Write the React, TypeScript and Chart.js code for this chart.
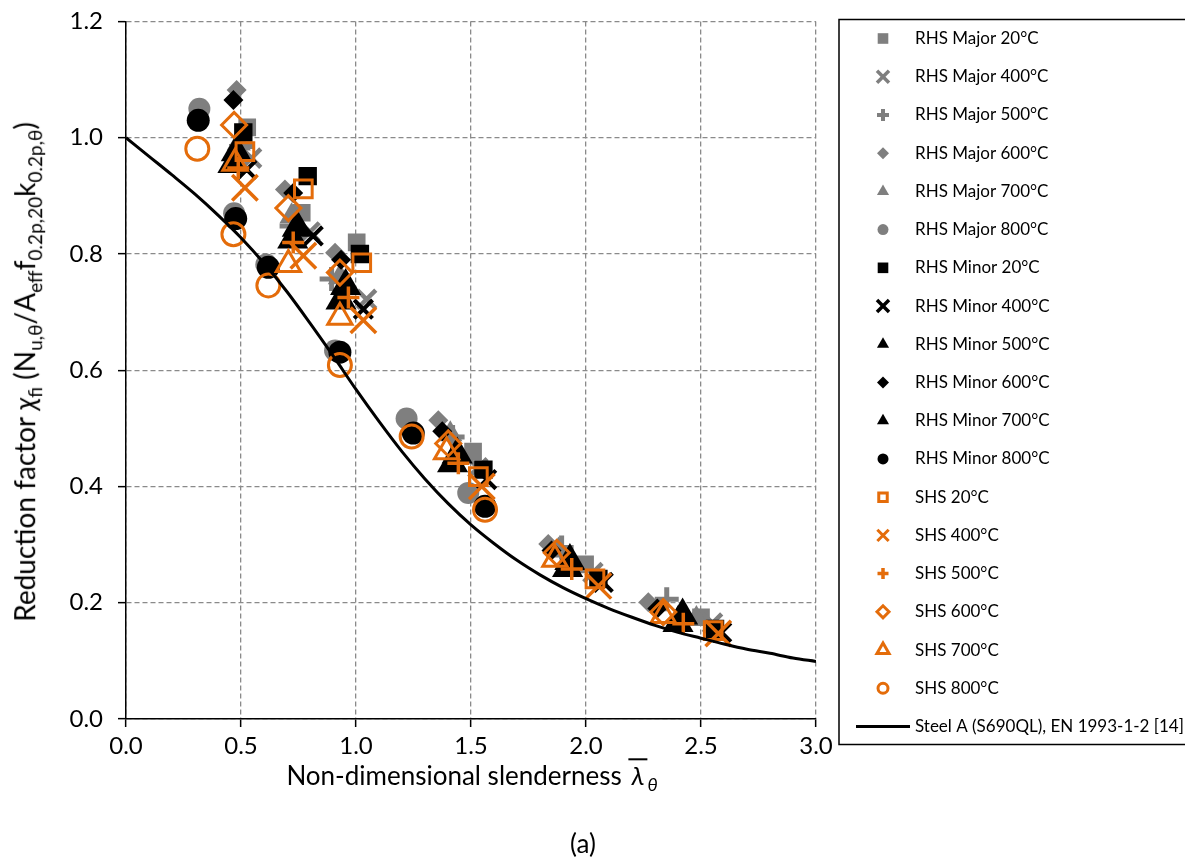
import { useEffect, useRef } from 'react';
import { Chart, registerables } from 'chart.js';

Chart.register(...registerables);

// ---------- data ----------
const xTicks = [0, 0.5, 1.0, 1.5, 2.0, 2.5, 3.0];
const yTicks = [0, 0.2, 0.4, 0.6, 0.8, 1.0, 1.2];

const seriesLabels = [
  'RHS Major 20°C', 'RHS Major 400°C', 'RHS Major 500°C', 'RHS Major 600°C', 'RHS Major 700°C', 'RHS Major 800°C',
  'RHS Minor 20°C', 'RHS Minor 400°C', 'RHS Minor 500°C', 'RHS Minor 600°C', 'RHS Minor 700°C', 'RHS Minor 800°C',
  'SHS 20°C', 'SHS 400°C', 'SHS 500°C', 'SHS 600°C', 'SHS 700°C', 'SHS 800°C',
];
const curveLabel = 'Steel A (S690QL), EN 1993-1-2 [14]';

const rhsMajor20 = [[0.527, 1.018], [0.764, 0.871], [1.003, 0.820], [1.509, 0.460], [1.996, 0.266], [2.50, 0.175]];
const rhsMajor400 = [[0.546, 0.965], [0.80, 0.838], [1.046, 0.722], [1.53, 0.432], [2.03, 0.252], [2.55, 0.165]];
const rhsMajor500 = [[0.50, 0.985], [0.720, 0.848], [0.894, 0.757], [1.42, 0.485], [1.894, 0.295], [2.351, 0.206]];
const rhsMajor600 = [[0.481, 1.082], [0.691, 0.911], [0.909, 0.802], [1.358, 0.514], [1.836, 0.301], [2.271, 0.201]];
const rhsMajor700 = [[0.49, 0.99], [0.72, 0.865], [0.93, 0.76], [1.41, 0.49], [1.88, 0.29], [2.48, 0.172]];
const rhsMajor800 = [[0.319, 1.050], [0.47, 0.87], [0.61, 0.782], [0.909, 0.634], [1.220, 0.517], [1.488, 0.389]];

const rhsMinor20 = [[0.510, 1.009], [0.790, 0.934], [1.017, 0.800], [1.554, 0.429], [2.054, 0.241], [2.561, 0.155]];
const rhsMinor400 = [[0.525, 0.945], [0.814, 0.831], [1.032, 0.705], [1.568, 0.412], [2.075, 0.235], [2.590, 0.149]];
const rhsMinor500 = [[0.48, 0.975], [0.745, 0.845], [0.955, 0.745], [1.44, 0.455], [1.93, 0.272], [2.42, 0.178]];
const rhsMinor600 = [[0.467, 1.065], [0.727, 0.905], [0.935, 0.79], [1.375, 0.495], [1.85, 0.29], [2.31, 0.19]];
const rhsMinor700 = [[0.465, 0.955], [0.725, 0.825], [0.935, 0.72], [1.42, 0.44], [1.92, 0.26], [2.40, 0.165]];
const rhsMinor800 = [[0.314, 1.030], [0.477, 0.861], [0.619, 0.777], [0.930, 0.631], [1.249, 0.492], [1.561, 0.366]];

const shs20 = [[0.517, 0.976], [0.771, 0.912], [1.025, 0.785], [1.532, 0.417], [2.039, 0.241], [2.553, 0.152]];
const shs400 = [[0.517, 0.914], [0.771, 0.797], [1.032, 0.686], [1.547, 0.400], [2.054, 0.229], [2.575, 0.147]];
const shs500 = [[0.488, 0.948], [0.727, 0.820], [0.967, 0.725], [1.445, 0.440], [1.938, 0.258], [2.423, 0.164]];
const shs600 = [[0.470, 1.022], [0.706, 0.879], [0.930, 0.768], [1.401, 0.474], [1.873, 0.286], [2.336, 0.184]];
const shs700 = [[0.474, 0.956], [0.706, 0.782], [0.930, 0.691], [1.394, 0.460], [1.865, 0.275], [2.336, 0.178]];
const shs800 = [[0.310, 0.981], [0.467, 0.834], [0.619, 0.746], [0.930, 0.609], [1.242, 0.486], [1.561, 0.360]];

const curveLambda = [0, 0.1, 0.2, 0.3, 0.4, 0.5, 0.6, 0.7, 0.8, 0.9, 1.0, 1.1, 1.2, 1.3, 1.4, 1.5,
  1.6, 1.7, 1.8, 1.9, 2.0, 2.1, 2.2, 2.3, 2.4, 2.5, 2.6, 2.7, 2.8, 2.9, 3.0];
const curveChi = [1.000, 0.968, 0.936, 0.903, 0.867, 0.828, 0.784, 0.735, 0.681, 0.625, 0.567, 0.512,
  0.460, 0.413, 0.371, 0.334, 0.302, 0.273, 0.248, 0.226, 0.207, 0.190, 0.175, 0.161, 0.149, 0.139,
  0.129, 0.120, 0.113, 0.105, 0.099];

const seriesData = [
  rhsMajor20, rhsMajor400, rhsMajor500, rhsMajor600, rhsMajor700, rhsMajor800,
  rhsMinor20, rhsMinor400, rhsMinor500, rhsMinor600, rhsMinor700, rhsMinor800,
  shs20, shs400, shs500, shs600, shs700, shs800,
];

// ---------- styles ----------
const GRAY = '#7f7f7f';
const BLACK = '#000000';
const ORANGE = '#e46c0a';

type Sty = { shape: string; color: string; hollow: boolean; r: number; bw: number; lr: number; lbw: number };
const styles: Sty[] = [
  { shape: 'rect', color: GRAY, hollow: false, r: 12.5, bw: 0, lr: 7.5, lbw: 0 },
  { shape: 'crossRot', color: GRAY, hollow: false, r: 13, bw: 4.5, lr: 8.5, lbw: 3.5 },
  { shape: 'cross', color: GRAY, hollow: false, r: 12, bw: 5, lr: 6, lbw: 4 },
  { shape: 'rectRot', color: GRAY, hollow: false, r: 10, bw: 0, lr: 6, lbw: 0 },
  { shape: 'triangle', color: GRAY, hollow: false, r: 14, bw: 0, lr: 7, lbw: 0 },
  { shape: 'circle', color: GRAY, hollow: false, r: 11, bw: 0, lr: 5.5, lbw: 0 },
  { shape: 'rect', color: BLACK, hollow: false, r: 13, bw: 0, lr: 7.5, lbw: 0 },
  { shape: 'crossRot', color: BLACK, hollow: false, r: 13, bw: 4, lr: 8.5, lbw: 3.5 },
  { shape: 'triangle', color: BLACK, hollow: false, r: 18, bw: 0, lr: 7, lbw: 0 },
  { shape: 'rectRot', color: BLACK, hollow: false, r: 10, bw: 0, lr: 6, lbw: 0 },
  { shape: 'triangle', color: BLACK, hollow: false, r: 18, bw: 0, lr: 7, lbw: 0 },
  { shape: 'circle', color: BLACK, hollow: false, r: 11.5, bw: 0, lr: 5.5, lbw: 0 },
  { shape: 'rect', color: ORANGE, hollow: true, r: 12.5, bw: 3, lr: 6, lbw: 3 },
  { shape: 'crossRot', color: ORANGE, hollow: true, r: 18, bw: 3.5, lr: 8, lbw: 3 },
  { shape: 'cross', color: ORANGE, hollow: true, r: 11, bw: 3.5, lr: 5.5, lbw: 3.5 },
  { shape: 'rectRot', color: ORANGE, hollow: true, r: 12.5, bw: 3, lr: 6, lbw: 3 },
  { shape: 'triangle', color: ORANGE, hollow: true, r: 14, bw: 3, lr: 7, lbw: 3 },
  { shape: 'circle', color: ORANGE, hollow: true, r: 11.5, bw: 3, lr: 5, lbw: 3 },
];

const FONT = 'Lato, "Open Sans", sans-serif';

function drawMarker(ctx: CanvasRenderingContext2D, s: Sty, x: number, y: number) {
  const r = s.lr;
  ctx.save();
  ctx.fillStyle = s.hollow ? 'rgba(0,0,0,0)' : s.color;
  ctx.strokeStyle = s.color;
  ctx.lineWidth = s.lbw;
  ctx.beginPath();
  const Q = Math.PI / 4;
  switch (s.shape) {
    case 'rect': {
      const h = Math.SQRT1_2 * r;
      ctx.rect(x - h, y - h, 2 * h, 2 * h);
      break;
    }
    case 'rectRot':
      ctx.moveTo(x - r, y);
      ctx.lineTo(x, y - r);
      ctx.lineTo(x + r, y);
      ctx.lineTo(x, y + r);
      ctx.closePath();
      break;
    case 'triangle': {
      let a = 0;
      ctx.moveTo(x + Math.sin(a) * r, y - Math.cos(a) * r);
      a += (2 * Math.PI) / 3;
      ctx.lineTo(x + Math.sin(a) * r, y - Math.cos(a) * r);
      a += (2 * Math.PI) / 3;
      ctx.lineTo(x + Math.sin(a) * r, y - Math.cos(a) * r);
      ctx.closePath();
      break;
    }
    case 'cross':
      ctx.moveTo(x - r, y);
      ctx.lineTo(x + r, y);
      ctx.moveTo(x, y - r);
      ctx.lineTo(x, y + r);
      break;
    case 'crossRot': {
      const d = Math.cos(Q) * r;
      ctx.moveTo(x - d, y - d);
      ctx.lineTo(x + d, y + d);
      ctx.moveTo(x + d, y - d);
      ctx.lineTo(x - d, y + d);
      break;
    }
    default:
      ctx.arc(x, y, r, 0, Math.PI * 2);
      ctx.closePath();
  }
  if (!s.hollow && s.shape !== 'cross' && s.shape !== 'crossRot') ctx.fill();
  if (s.lbw > 0) ctx.stroke();
  ctx.restore();
}

const boxLegend = {
  id: 'boxLegend',
  afterDraw(chart: any) {
    const { ctx, chartArea } = chart;
    const left = chartArea.right + 23;
    const top = chartArea.top - 2;
    const markerX = chartArea.right + 67;
    const textX = chartArea.right + 99;
    const step = 38.22;
    const firstY = chartArea.top + 17;
    ctx.save();
    ctx.strokeStyle = '#000';
    ctx.lineWidth = 1.5;
    ctx.strokeRect(left, top, 400, 725);
    ctx.font = `17px ${FONT}`;
    ctx.textBaseline = 'middle';
    ctx.textAlign = 'left';
    seriesLabels.forEach((lab, i) => {
      const y = firstY + i * step;
      drawMarker(ctx, styles[i], markerX, y);
      ctx.fillStyle = '#000';
      ctx.fillText(lab, textX, y);
    });
    const ly = firstY + seriesLabels.length * step;
    ctx.strokeStyle = '#000';
    ctx.lineWidth = 3;
    ctx.beginPath();
    ctx.moveTo(chartArea.right + 40, ly);
    ctx.lineTo(chartArea.right + 94, ly);
    ctx.stroke();
    ctx.fillStyle = '#000';
    ctx.fillText(curveLabel, textX, ly);
    ctx.restore();
  },
};

export default function App() {
  const ref = useRef<HTMLCanvasElement>(null);

  useEffect(() => {
    if (!ref.current) return;
    const datasets: any[] = seriesData.map((pts, i) => {
      const s = styles[i];
      const isCross = s.shape === 'cross' || s.shape === 'crossRot';
      return {
        type: 'scatter',
        label: seriesLabels[i],
        data: pts.map(([x, y]) => ({ x, y })),
        pointStyle: s.shape,
        pointRadius: s.r,
        pointBackgroundColor: s.hollow || isCross ? 'rgba(0,0,0,0)' : s.color,
        pointBorderColor: s.color,
        pointBorderWidth: isCross || s.hollow ? s.bw : 0,
        showLine: false,
        order: 100 - i,
      };
    });
    datasets.push({
      type: 'line',
      label: curveLabel,
      data: curveLambda.map((x, i) => ({ x, y: curveChi[i] })),
      borderColor: '#000',
      borderWidth: 3,
      pointRadius: 0,
      cubicInterpolationMode: 'monotone',
      fill: false,
      order: 50,
    });

    const chart = new Chart(ref.current, {
      type: 'scatter',
      data: { datasets },
      options: {
        responsive: false,
        animation: false,
        events: [],
        layout: { padding: { top: 18, right: 369, left: 0, bottom: 0 } },
        plugins: { legend: { display: false }, tooltip: { enabled: false } },
        scales: {
          x: {
            type: 'linear',
            min: 0,
            max: 3,
            afterBuildTicks: (s: any) => { s.ticks = xTicks.map((v) => ({ value: v })); },
            afterFit: (s: any) => { s.height = 144; },
            ticks: {
              color: '#000',
              font: { family: FONT, size: 24 },
              padding: 5,
              callback: (v: any) => Number(v).toFixed(1),
            },
            grid: { color: '#8a8a8a', lineWidth: 1.3, tickColor: '#000', tickLength: 8, tickWidth: 1.5, tickBorderDash: [] },
            border: { display: true, color: '#000', width: 1.5, dash: [5, 3] },
          },
          y: {
            type: 'linear',
            min: 0,
            max: 1.2,
            afterBuildTicks: (s: any) => { s.ticks = yTicks.map((v) => ({ value: v })); },
            afterFit: (s: any) => { s.width = 126; s.paddingTop = 0; s.paddingBottom = 0; },
            ticks: {
              color: '#000',
              font: { family: FONT, size: 24 },
              padding: 15,
              callback: (v: any) => Number(v).toFixed(1),
            },
            grid: { color: '#8a8a8a', lineWidth: 1.3, tickColor: '#000', tickLength: 8, tickWidth: 1.5, tickBorderDash: [] },
            border: { display: true, color: '#000', width: 1.5, dash: [5, 3] },
          },
        },
      },
      plugins: [boxLegend],
    } as any);
    return () => chart.destroy();
  }, []);

  const sub = { fontSize: '68%' };
  return (
    <div style={{ position: 'fixed', left: 0, top: 0, width: 1185, height: 863, background: '#fff', fontFamily: FONT, color: '#000' }}>
      <canvas ref={ref} width={1185} height={863} style={{ position: 'absolute', left: 0, top: 0 }} />
      <div
        style={{
          position: 'absolute', left: 27, top: 372, whiteSpace: 'nowrap', fontSize: 28, lineHeight: 1,
          transform: 'translate(-50%, -50%) rotate(-90deg)',
        }}
      >
        Reduction factor <i>χ</i><sub style={sub}>fi</sub> (N<sub style={sub}>u,θ</sub>/A<sub style={sub}>eff</sub>f<sub style={sub}>0.2p,20</sub>k<sub style={sub}>0.2p,θ</sub>)
      </div>
      <div
        style={{
          position: 'absolute', left: 472, top: 776, whiteSpace: 'nowrap', fontSize: 26, lineHeight: 1,
          transform: 'translate(-50%, -50%)',
        }}
      >
        Non-dimensional slenderness{' '}
        <span style={{ display: 'inline-block', borderTop: '2px solid #000', padding: '2px 3px 0', fontStyle: 'italic', lineHeight: 1 }}>λ</span>
        <sub style={{ fontSize: '70%', fontStyle: 'italic' }}>θ</sub>
      </div>
      <div style={{ position: 'absolute', left: 583, top: 843, fontSize: 26, lineHeight: 1, transform: 'translate(-50%, -50%)' }}>(a)</div>
    </div>
  );
}
